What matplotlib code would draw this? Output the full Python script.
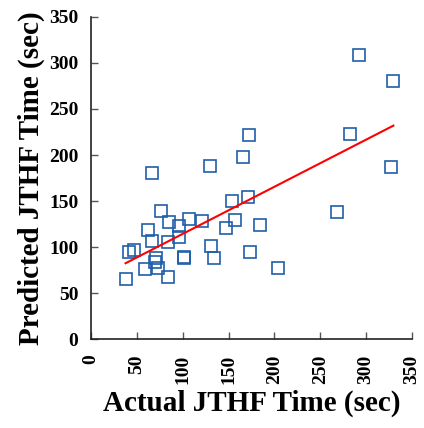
import numpy as np
import matplotlib.pyplot as plt

# actual vs predicted JTHF time (sec)
actual = [291.7, 329.7, 172.1, 282.6, 165.9, 129.7, 327.2, 66.7, 153.3, 171.0,
          268.1, 76.8, 84.8, 106.5, 121.0, 95.7, 156.9, 184.4, 147.5, 62.7,
          95.7, 66.3, 84.1, 130.8, 41.7, 47.1, 173.2, 101.4, 101.4, 134.1,
          71.4, 69.9, 59.1, 73.6, 204.3, 84.4, 37.7]
predicted = [308.7, 280.4, 221.7, 222.8, 198.2, 188.4, 187.3, 180.1, 150.0, 154.7,
             138.0, 139.1, 126.8, 130.0, 128.3, 122.8, 129.3, 123.6, 120.3, 118.5,
             111.2, 106.5, 105.1, 101.1, 94.9, 96.7, 94.9, 89.5, 87.7, 88.4,
             88.4, 83.3, 76.1, 76.8, 77.2, 67.0, 65.2]
ticks = [0, 50, 100, 150, 200, 250, 300, 350]

actual = np.array(actual)
predicted = np.array(predicted)
slope, intercept = np.polyfit(actual, predicted, 1)
xfit = np.array([actual.min(), actual.max()])

plt.rcParams['font.family'] = ['Liberation Serif', 'DejaVu Serif']
plt.rcParams['font.weight'] = 'bold'

fig = plt.figure(figsize=(4.24, 4.28), dpi=100)
ax = fig.add_axes([0.2146, 0.2079, 0.7571, 0.7524])

ax.plot(actual, predicted, 's', ms=8.6, mfc='none', mec='#1f5ea8', mew=1.2)
ax.plot(xfit, slope * xfit + intercept, color='#ff0000', lw=1.5)

ax.set_xlim(0, 350)
ax.set_ylim(0, 350)
ax.set_xticks(ticks)
ax.set_yticks(ticks)
ax.set_xticklabels(ticks, rotation=90, fontsize=14, fontweight='bold')
ax.set_yticklabels(ticks, fontsize=14, fontweight='bold')
ax.tick_params(direction='in', length=5, width=1, color='#555555')
ax.tick_params(axis='x', pad=11)
ax.tick_params(axis='y', pad=9)
ax.spines['top'].set_visible(False)
ax.spines['right'].set_visible(False)
ax.spines['left'].set_color('#222222')
ax.spines['bottom'].set_color('#222222')
ax.spines['left'].set_linewidth(1.2)
ax.spines['bottom'].set_linewidth(1.2)

ax.set_xlabel('Actual JTHF Time (sec)', fontsize=21, fontweight='bold', labelpad=4)
ax.set_ylabel('Predicted JTHF Time (sec)', fontsize=21, fontweight='bold', labelpad=3)

fig.savefig('out.png', dpi=100)
